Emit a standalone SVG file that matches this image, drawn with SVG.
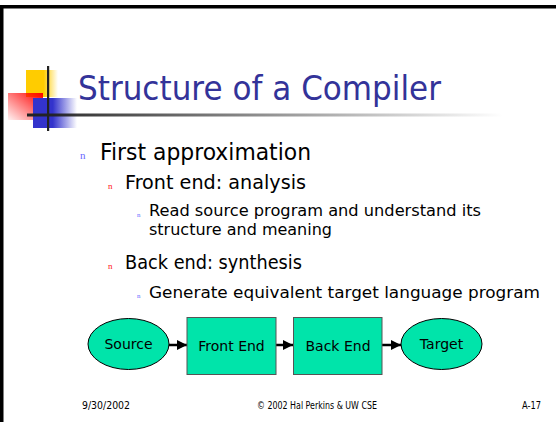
<svg xmlns="http://www.w3.org/2000/svg" width="556" height="422" viewBox="0 0 556 422">
<defs>
<linearGradient id="gY" x1="0" y1="0" x2="1" y2="0"><stop offset="0.55" stop-color="#ffcc00"/><stop offset="1" stop-color="#ffcc00" stop-opacity="0"/></linearGradient>
<linearGradient id="gR" x1="1" y1="0" x2="0" y2="1"><stop offset="0" stop-color="#ff0000"/><stop offset="1" stop-color="#ff0000" stop-opacity="0.05"/></linearGradient>
<linearGradient id="gB" x1="0" y1="0" x2="1" y2="0"><stop offset="0.45" stop-color="#3333cc"/><stop offset="1" stop-color="#3333cc" stop-opacity="0"/></linearGradient>
<linearGradient id="gL" x1="0" y1="0" x2="1" y2="0"><stop offset="0" stop-color="#222"/><stop offset="1" stop-color="#222" stop-opacity="0"/></linearGradient>
<marker id="ah" viewBox="0 0 10 10" refX="10" refY="5" markerWidth="4" markerHeight="4" orient="auto" markerUnits="strokeWidth"><path d="M0,0 L10,5 L0,10 z" fill="#000"/></marker>
<style>
.t{font-family:"DejaVu Sans",sans-serif;fill:#000}
.b{font-family:"Liberation Serif",serif}
.node{fill:#00e4aa}
.ell{stroke:#000;stroke-width:1}
.box{stroke:#555;stroke-width:1}
.lbl{font-family:"DejaVu Sans",sans-serif;font-size:14px;fill:#000;text-anchor:middle}
.ft{font-family:"DejaVu Sans",sans-serif;font-size:10px;fill:#000}
</style>
</defs>
<rect width="556" height="422" fill="#fff"/>
<rect x="0" y="5" width="556" height="3.5" fill="#000"/>
<rect x="0" y="5" width="3.5" height="417" fill="#000"/>
<g id="logo">
<rect x="26" y="70" width="32" height="27" fill="url(#gY)"/>
<rect x="8" y="93" width="35" height="27" fill="url(#gR)"/>
<rect x="33" y="98" width="44" height="30" fill="url(#gB)"/>
<rect x="27" y="113.5" width="476" height="3" fill="url(#gL)"/>
<rect x="47" y="66" width="2.2" height="65" fill="#222"/>
</g>
<text x="78" y="100" font-family="DejaVu Sans,sans-serif" font-size="33" fill="#333399" textLength="363" lengthAdjust="spacingAndGlyphs">Structure of a Compiler</text>
<g id="bullets">
<text class="b" x="80" y="159" font-size="11" fill="#6666ff">n</text>
<text class="t" x="100" y="160" font-size="23" textLength="211" lengthAdjust="spacingAndGlyphs">First approximation</text>
<text class="b" x="108" y="189" font-size="9" fill="#ff2222">n</text>
<text class="t" x="125" y="189" font-size="19.5" textLength="181" lengthAdjust="spacingAndGlyphs">Front end: analysis</text>
<text class="b" x="137" y="217" font-size="7" fill="#6666ff">n</text>
<text class="t" x="149" y="216" font-size="16" textLength="332" lengthAdjust="spacingAndGlyphs">Read source program and understand its</text>
<text class="t" x="149" y="235" font-size="16" textLength="183" lengthAdjust="spacingAndGlyphs">structure and meaning</text>
<text class="b" x="108" y="269" font-size="9" fill="#ff2222">n</text>
<text class="t" x="125" y="269" font-size="19.5" textLength="177" lengthAdjust="spacingAndGlyphs">Back end: synthesis</text>
<text class="b" x="137" y="298" font-size="7" fill="#6666ff">n</text>
<text class="t" x="149" y="298" font-size="16" textLength="391" lengthAdjust="spacingAndGlyphs">Generate equivalent target language program</text>
</g>
<g id="connectors" stroke="#000" stroke-width="2.5" fill="none">
<line x1="169" y1="345" x2="187" y2="345" marker-end="url(#ah)"/>
<line x1="276" y1="345" x2="293" y2="345" marker-end="url(#ah)"/>
<line x1="382" y1="345" x2="401" y2="345" marker-end="url(#ah)"/>
</g>
<g id="source">
<ellipse class="node ell" cx="128.5" cy="344" rx="40.5" ry="25.5"/>
<text class="lbl" x="128.5" y="349">Source</text>
</g>
<g id="frontend">
<rect class="node box" x="187" y="317.5" width="89" height="57"/>
<text class="lbl" x="231.5" y="351">Front End</text>
</g>
<g id="backend">
<rect class="node box" x="293.5" y="317.5" width="88.5" height="57"/>
<text class="lbl" x="338" y="351">Back End</text>
</g>
<g id="target">
<ellipse class="node ell" cx="441.5" cy="344" rx="40.5" ry="25.5"/>
<text class="lbl" x="441.5" y="349">Target</text>
</g>
<g id="footer">
<text class="ft" x="82" y="409" textLength="48" lengthAdjust="spacingAndGlyphs">9/30/2002</text>
<text class="ft" x="257" y="409" textLength="120" lengthAdjust="spacingAndGlyphs">© 2002 Hal Perkins &amp; UW CSE</text>
<text class="ft" x="522" y="409" textLength="19" lengthAdjust="spacingAndGlyphs">A-17</text>
</g>
</svg>
